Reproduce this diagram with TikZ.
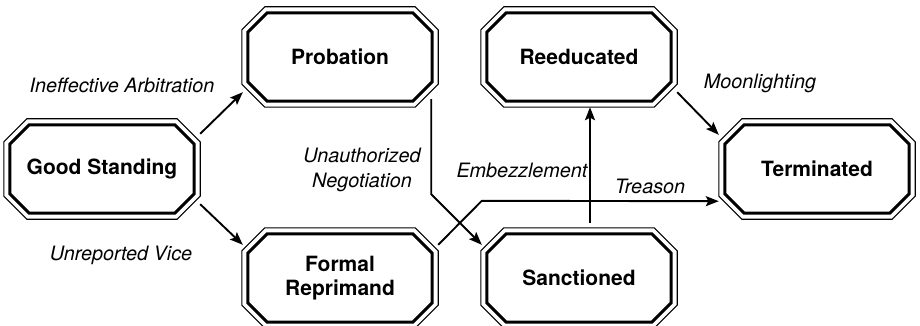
\documentclass[tikz,border=0pt]{standalone}
\usepackage{fontspec}
\setmainfont{TeX Gyre Heros}
\usetikzlibrary{calc,arrows.meta}
\tikzset{
  state/.style={rectangle, draw=none, minimum width=196pt, minimum height=100pt, inner sep=0pt, align=center, font=\bfseries\fontsize{21}{24}\selectfont},
  lbl/.style={inner sep=0pt, align=center, font=\itshape\fontsize{19.8}{25}\selectfont},
  arr/.style={line width=1.9pt, -{Stealth[length=13pt,width=10pt,inset=2.5pt]}},
  ln/.style={line width=1.9pt}
}
\newcommand\octo[4]{%
  \draw[#4,line join=miter] ($(#1.north west)+(#2+#3,#2)$) -- ($(#1.north east)+(-#2-#3,#2)$) -- ($(#1.north east)+(-#2,#2+#3)$) -- ($(#1.south east)+(-#2,-#2-#3)$) -- ($(#1.south east)+(-#2-#3,-#2)$) -- ($(#1.south west)+(#2+#3,-#2)$) -- ($(#1.south west)+(#2,-#2-#3)$) -- ($(#1.north west)+(#2,#2+#3)$) -- cycle;}
\newcommand\stateframe[1]{\octo{#1}{0}{23}{line width=1.1pt}\octo{#1}{6}{19.5}{line width=3pt}}
\begin{document}
\begin{tikzpicture}[x=1pt,y=-1pt]
\useasboundingbox (0,0) rectangle (920,326);
\node[state] (gs) at (102,169) {Good Standing};
\node[state] (pro) at (340,57) {Probation};
\node[state] (ree) at (579,57) {Reeducated};
\node[state] (ter) at (817,169) {Terminated};
\node[state] (frm) at (340,278) {Formal\\Reprimand};
\node[state] (san) at (579,278) {Sanctioned};
\stateframe{gs}\stateframe{pro}\stateframe{ree}\stateframe{ter}\stateframe{frm}\stateframe{san}
% connectors
\draw[arr] ($(gs.north east)+(0,15)$) -- ($(pro.south west)+(1,-15)$);
\draw[arr] ($(gs.south east)+(0,-15)$) -- ($(frm.north west)+(1,17)$);
\coordinate (k1) at ($(pro.south east)+(-7,87)$);
\draw[arr] ($(pro.south east)+(-7,-8)$) -- (k1) -- ($(san.north west)+(1,17)$);
\coordinate (k2) at ($(san.north west)+(1,-27)$);
\draw[arr] ($(frm.north east)+(0,17)$) -- (k2) -- ($(ter.south west)+(0,-18)$);
\draw[arr] ($(san.north)+(11,-5)$) -- ($(ree.south)+(11,0)$);
\draw[arr] ($(ree.south east)+(0,-15)$) -- ($(ter.north west)+(0,16)$);
% labels
\node[lbl] (l1) at (122,85) {Ineffective Arbitration};
\node[lbl] (l2) at (121,255) {Unreported Vice};
\node[lbl] (l3) at (362,170) {Unauthorized\\Negotiation};
\node[lbl] (l4) at (522,170) {Embezzlement};
\node[lbl] (l5) at (650,186) {Treason};
\node[lbl] (l6) at (760,83) {Moonlighting};
\end{tikzpicture}
\end{document}
